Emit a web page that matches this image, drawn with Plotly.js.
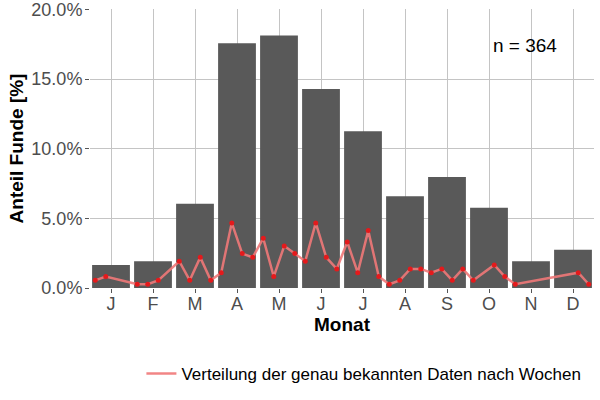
<!DOCTYPE html>
<html>
<head>
<meta charset="utf-8">
<script src="https://cdn.plot.ly/plotly-3.0.1.min.js"></script>
<style>html,body{margin:0;padding:0;background:#fff;}#chart{width:600px;height:400px;}</style>
</head>
<body>
<div id="chart"></div>
<script>
// Monthly share of finds (%)
var monthLabels = ["J","F","M","A","M","J","J","A","S","O","N","D"];
var monthShare = [1.65, 1.92, 6.04, 17.58, 18.13, 14.29, 11.26, 6.59, 7.97, 5.77, 1.92, 2.75];

// Y-axis ticks
var yTickVals = [0, 5, 10, 15, 20];
var yTickText = ["0.0%", "5.0%", "10.0%", "15.0%", "20.0%"];

// Weekly distribution of exactly known dates (%), week index within a 48-week year
var weeks = [1, 2, 5, 6, 7, 9, 10, 11, 12, 13, 14, 15, 16, 17, 18, 19, 20, 21, 22, 23, 24,
             25, 26, 27, 28, 29, 30, 31, 32, 33, 34, 35, 36, 37, 39, 40, 41, 47, 48];
var weekShare = [0.55, 0.82, 0.27, 0.27, 0.55, 1.92, 0.55, 2.20, 0.55, 1.10, 4.67, 2.47, 2.20, 3.57, 0.82,
                 3.02, 2.47, 1.92, 4.67, 2.20, 1.37, 3.30, 1.10, 4.12, 0.82, 0.27, 0.55, 1.37, 1.37, 1.10,
                 1.37, 0.55, 1.37, 0.55, 1.65, 0.82, 0.27, 1.10, 0.27];

var monthX = monthLabels.map(function(_, i){ return i + 1; });
var weekX = weeks.map(function(w){ return 0.5 + (w - 0.5) / 4; });

var bars = {
  type: "bar", x: monthX, y: monthShare, width: 0.9,
  marker: {color: "#595959"}, showlegend: false, hoverinfo: "skip"
};
var line = {
  type: "scatter", mode: "lines", x: weekX, y: weekShare,
  line: {color: "rgba(240,120,120,0.9)", width: 2.5},
  name: "Verteilung der genau bekannten Daten nach Wochen", showlegend: true
};
var pts = {
  type: "scatter", mode: "markers", x: weekX, y: weekShare,
  marker: {color: "#e41a1c", size: 5}, showlegend: false
};

var layout = {
  width: 600, height: 400,
  margin: {l: 90, r: 6, t: 9, b: 112},
  paper_bgcolor: "#fff", plot_bgcolor: "#fff",
  font: {family: "Liberation Sans, Arial, sans-serif", color: "#4d4d4d", size: 18},
  bargap: 0.1,
  xaxis: {
    range: [0.5, 12.5], tickvals: monthX, ticktext: monthLabels,
    showgrid: true, gridcolor: "#c4c4c4", gridwidth: 1,
    zeroline: false, showline: false,
    ticks: "outside", ticklen: 4, tickcolor: "#555", tickwidth: 1,
    ticklabelstandoff: -5,
    tickfont: {size: 18, color: "#4d4d4d"},
    title: {text: "<b>Monat</b>", font: {size: 19, color: "#000"}, standoff: 2}
  },
  yaxis: {
    range: [0, 20.03], tickvals: yTickVals, ticktext: yTickText,
    showgrid: true, gridcolor: "#c4c4c4", gridwidth: 1,
    zeroline: false, showline: false,
    ticks: "outside", ticklen: 4, tickcolor: "#555", tickwidth: 1,
    ticklabeloverflow: "allow", ticklabelstandoff: -1,
    tickfont: {size: 18, color: "#4d4d4d"},
    title: {text: "<b>Anteil Funde [%]</b>", font: {size: 19, color: "#000"}, standoff: 2}
  },
  legend: {
    orientation: "h", x: 0.102, xanchor: "left", y: -0.308, yanchor: "middle",
    font: {size: 17, color: "#000"}, itemwidth: 30, bgcolor: "rgba(0,0,0,0)"
  },
  annotations: [{
    x: 10.86, y: 17.4, xref: "x", yref: "y", text: "n = 364", showarrow: false,
    font: {size: 19, color: "#000"}
  }]
};

Plotly.newPlot("chart", [bars, line, pts], layout, {displayModeBar: false, staticPlot: true});
</script>
</body>
</html>
